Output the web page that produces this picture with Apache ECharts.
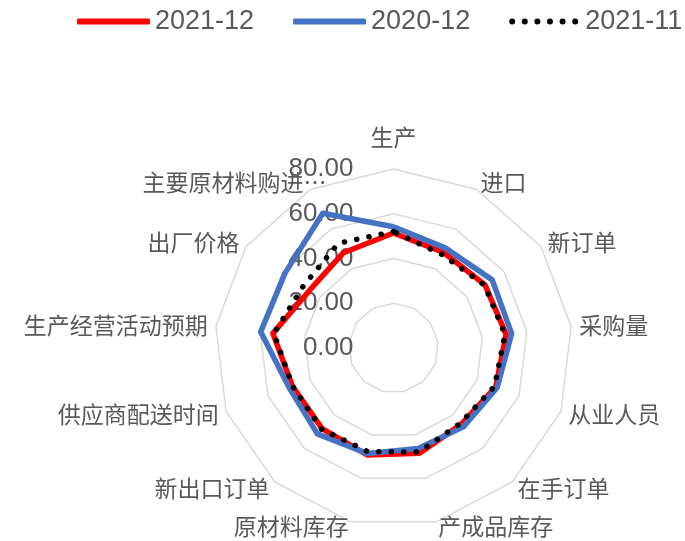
<!DOCTYPE html>
<html>
<head>
<meta charset="utf-8">
<script src="https://cdn.jsdelivr.net/npm/echarts@6/dist/echarts.min.js"></script>
<style>
  html, body { margin: 0; padding: 0; background: #fff; }
  #chart { width: 685px; height: 541px; }
</style>
</head>
<body>
<div id="chart"></div>
<script>
// 指标，从顶部开始顺时针排列
const indicators = ['生产', '进口', '新订单', '采购量', '从业人员', '在手订单', '产成品库存',
  '原材料库存', '新出口订单', '供应商配送时间', '生产经营活动预期', '出厂价格', '主要原材料购进价格']
const seriesNames = ['2021-12', '2020-12', '2021-11']
const dec2021 = [51.4, 48.2, 49.7, 50.7, 48.9, 45.6, 48.5, 49.2, 48.1, 48.3, 54.3, 45.5, 48.1]
const dec2020 = [54.2, 50.4, 53.6, 53.2, 49.6, 47.1, 46.2, 48.6, 51.3, 49.9, 59.8, 58.9, 68.0]
const nov2021 = [52.0, 47.1, 49.4, 50.2, 48.3, 45.0, 47.9, 47.7, 48.5, 48.2, 53.8, 48.9, 52.9]
const axisMin = 0
const axisMax = 80
const axisSplit = 4

// echarts 雷达图是逆时针排列的，这里换成顺时针
const order = [0].concat(indicators.map((_, i) => indicators.length - 1 - i).slice(0, -1))
const reorder = (arr) => order.map((i) => arr[i])

const textColor = '#595959'
const cjkFont = "'Noto Sans CJK SC', sans-serif"
const numFont = "'Liberation Sans', 'Noto Sans CJK SC', sans-serif"

// 图例里的点线
let dotPath = 'path://'
for (let k = 0; k < 6; k++) {
  const x = k * 12.6
  dotPath += `M${x},3a3,3 0 1,0 6,0a3,3 0 1,0 -6,0Z`
}

const radarIndicator = reorder(indicators).map((name, i) => {
  const item = { name: name, min: axisMin, max: axisMax }
  if (i === 0) {
    item.axisLabel = {
      show: true,
      margin: 40,
      color: textColor,
      fontSize: 26,
      fontFamily: numFont,
      formatter: (v) => Number(v).toFixed(2),
    }
  }
  return item
})

const nameStyle = { color: textColor, fontSize: 23, fontFamily: cjkFont }

const chart = echarts.init(document.getElementById('chart'))

chart.setOption({
  animation: false,
  backgroundColor: '#fff',
  legend: {
    left: 77,
    top: 8,
    padding: 0,
    width: 700,
    itemWidth: 73,
    itemHeight: 6,
    itemGap: 39,
    textStyle: {
      color: textColor,
      fontSize: 27,
      fontFamily: numFont,
    },
    data: [
      { name: seriesNames[0], icon: 'roundRect', itemStyle: { color: '#ff0000', borderWidth: 0 } },
      { name: seriesNames[1], icon: 'roundRect', itemStyle: { color: '#4472c4', borderWidth: 0 } },
      { name: seriesNames[2], icon: dotPath, itemStyle: { color: '#000', borderWidth: 0 } },
    ],
  },
  radar: {
    center: [393.5, 348],
    radius: 179,
    splitNumber: axisSplit,
    shape: 'polygon',
    indicator: radarIndicator,
    nameGap: 8,
    axisName: {
      ...nameStyle,
      formatter: (name) => {
        if (name === '生产') return `{top|${name}}`
        if (name === '产成品库存' || name === '原材料库存') return `{bottom|${name}}`
        if (name.length > 8) return `{shift|${name.slice(0, 7)}…}`
        return name
      },
      rich: {
        top: { ...nameStyle, padding: [0, 0, 12, 0] },
        bottom: { ...nameStyle, padding: [0, 0, 7, 0] },
        shift: { ...nameStyle, padding: [0, -20, 0, 0] },
      },
    },
    axisLine: { show: false },
    axisTick: { show: false },
    axisLabel: { show: false },
    splitArea: { show: false },
    splitLine: { lineStyle: { color: '#d9d9d9', width: 1.5 } },
  },
  series: [
    {
      type: 'radar',
      name: seriesNames[0],
      symbol: 'none',
      lineStyle: { color: '#ff0000', width: 5.5 },
      itemStyle: { color: '#ff0000' },
      data: [{ name: seriesNames[0], value: reorder(dec2021) }],
    },
    {
      type: 'radar',
      name: seriesNames[1],
      symbol: 'none',
      lineStyle: { color: '#4472c4', width: 5.5 },
      itemStyle: { color: '#4472c4' },
      data: [{ name: seriesNames[1], value: reorder(dec2020) }],
    },
    {
      type: 'radar',
      name: seriesNames[2],
      symbol: 'none',
      lineStyle: { color: '#000', width: 5.5, type: [0.1, 12.4], cap: 'round' },
      itemStyle: { color: '#000' },
      data: [{ name: seriesNames[2], value: reorder(nov2021) }],
    },
  ],
})
</script>
</body>
</html>
